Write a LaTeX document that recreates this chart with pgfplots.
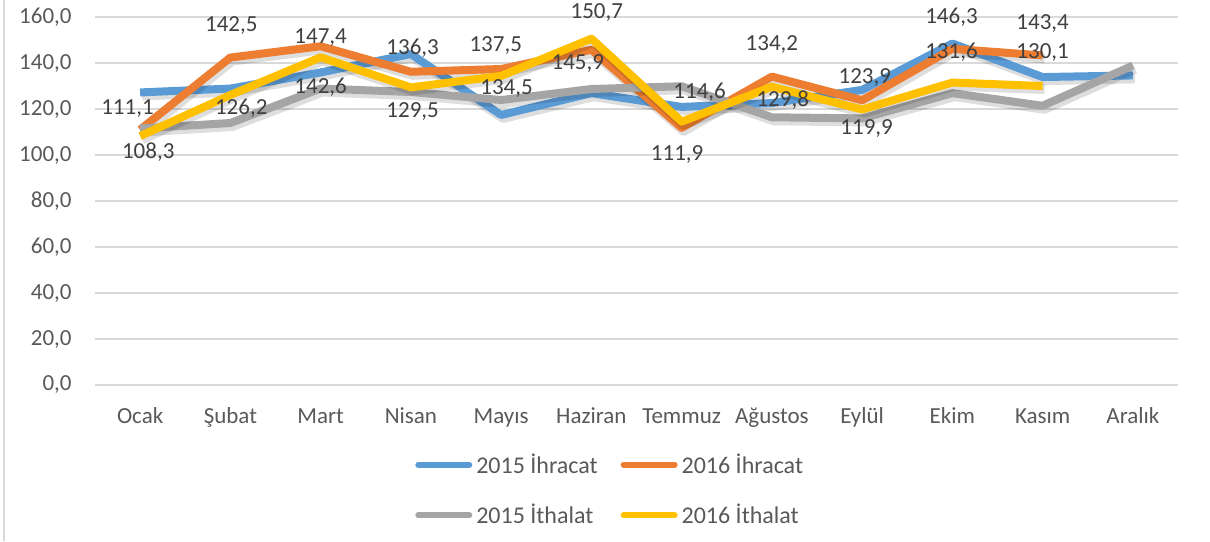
\documentclass[border=0pt]{standalone}
\usepackage{fontspec}
\setmainfont{Carlito}
\usepackage{pgfplots}
\pgfplotsset{compat=1.18}
\definecolor{cblue}{HTML}{5B9BD5}
\definecolor{corange}{HTML}{ED7D31}
\definecolor{cgrey}{HTML}{A5A5A5}
\definecolor{cyellow}{HTML}{FFC000}
\definecolor{gridc}{HTML}{D9D9D9}
\definecolor{tickc}{HTML}{595959}
\definecolor{lblc}{HTML}{404040}
\makeatletter
\tikzset{lbl/.style={font=\fontsize{11.5}{13}\selectfont, text=lblc, inner sep=0pt, anchor=center},
  shad/.style={preaction={draw=black, draw opacity=0.13, line width=5pt, transform canvas={shift={(1pt,-1.5pt)}}}},
  noshad/.code={\def\tikz@preactions{}}}
\makeatother
\begin{document}
\begin{tikzpicture}[x=1pt,y=1pt]
\path[use as bounding box] (0,0) rectangle (605,270.5);
\draw[gridc, line width=1pt] (2,0) -- (2,270.5);
\begin{axis}[
  at={(47.5pt,78pt)}, anchor=south west,
  scale only axis, width=541.5pt, height=183.85pt,
  xmin=-0.5, xmax=11.5, ymin=0, ymax=160,
  clip=false,
  axis line style={draw=none},
  tick style={draw=none},
  ytick={0,20,...,160},
  ymajorgrids,
  grid style={line width=1pt, gridc},
  xtick={0,...,11},
  xticklabels={Ocak,Şubat,Mart,Nisan,Mayıs,Haziran,Temmuz,Ağustos,Eylül,Ekim,Kasım,Aralık},
  /pgf/number format/assume math mode=true,
  yticklabel={\pgfmathprintnumber[fixed,fixed zerofill,precision=1,use comma,1000 sep={}]{\tick}},
  yticklabel style={font=\fontsize{11.5}{13}\selectfont, text=tickc, inner sep=0pt, anchor=east, xshift=-11.5pt},
  xticklabel style={font=\fontsize{11.5}{13}\selectfont, text=tickc, inner sep=0pt, anchor=base, yshift=-19pt},
  legend columns=2,
  legend cell align=left,
  legend style={draw=none, fill=none, at={(0.4766,-0.2856)}, anchor=center,
    font=\fontsize{12}{14}\selectfont, text=tickc,
    /tikz/every even column/.append style={column sep=9.5pt},
    row sep=10pt},
  legend image code/.code={\draw[#1, noshad, line width=3pt, line cap=round] (1.5pt,0pt) -- (27pt,0pt);},
  every axis plot/.append style={line width=4pt, line join=round, no markers},
]
\addplot[cblue, shad] coordinates {(0,127.3) (1,129) (2,136) (3,144) (4,117.5) (5,127) (6,121) (7,122.7) (8,128.4) (9,148.6) (10,134) (11,134.7)};
\addlegendentry{2015 İhracat}
\addplot[corange, shad] coordinates {(0,111.1) (1,142.5) (2,147.4) (3,136.3) (4,137.5) (5,145.9) (6,111.9) (7,134.2) (8,123.9) (9,146.3) (10,143.4)};
\addlegendentry{2016 İhracat}
\addplot[cgrey, shad] coordinates {(0,111.6) (1,114) (2,129) (3,127.5) (4,124) (5,128.8) (6,130) (7,116.5) (8,116) (9,127) (10,121.5) (11,139)};
\addlegendentry{2015 İthalat}
\addplot[cyellow, shad] coordinates {(0,108.3) (1,126.2) (2,142.6) (3,129.5) (4,134.5) (5,150.7) (6,114.6) (7,129.8) (8,119.9) (9,131.6) (10,130.1)};
\addlegendentry{2016 İthalat}
\node[lbl] at (axis cs:-0.14,120.5) {111,1};
\node[lbl] at (axis cs:1.01,156.6) {142,5};
\node[lbl] at (axis cs:2.0,151) {147,4};
\node[lbl] at (axis cs:3.02,146.6) {136,3};
\node[lbl] at (axis cs:3.94,147.9) {137,5};
\node[lbl] at (axis cs:4.85,140.1) {145,9};
\node[lbl] at (axis cs:5.95,100.1) {111,9};
\node[lbl] at (axis cs:7.0,148) {134,2};
\node[lbl] at (axis cs:8.03,133.6) {123,9};
\node[lbl] at (axis cs:8.99,160.1) {146,3};
\node[lbl] at (axis cs:10.0,157.5) {143,4};
\node[lbl] at (axis cs:0.09,101.4) {108,3};
\node[lbl] at (axis cs:1.12,120.5) {126,2};
\node[lbl] at (axis cs:2.0,129.7) {142,6};
\node[lbl] at (axis cs:3.02,118.8) {129,5};
\node[lbl] at (axis cs:4.06,129.2) {134,5};
\node[lbl] at (axis cs:5.06,162.3) {150,7};
\node[lbl] at (axis cs:6.2,127.5) {114,6};
\node[lbl] at (axis cs:7.12,124) {129,8};
\node[lbl] at (axis cs:8.05,111.8) {119,9};
\node[lbl] at (axis cs:8.99,144.9) {131,6};
\node[lbl] at (axis cs:10.0,144.5) {130,1};
\end{axis}
\end{tikzpicture}
\end{document}
